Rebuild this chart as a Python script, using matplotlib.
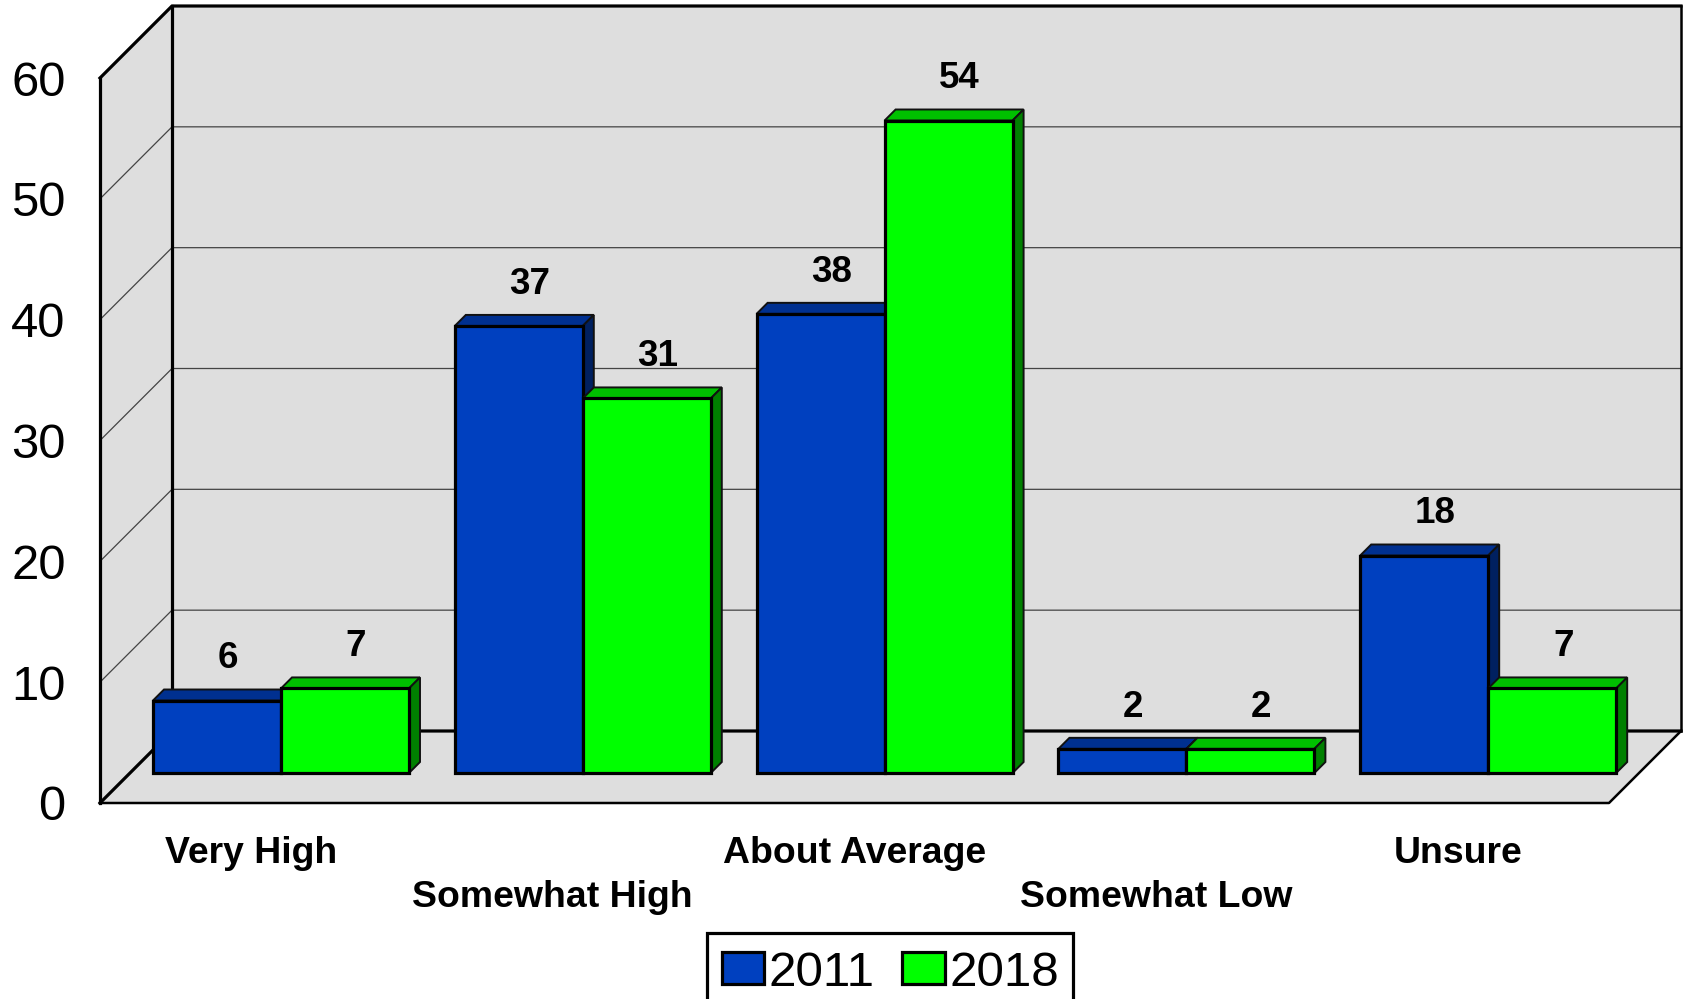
import matplotlib
matplotlib.use("Agg")
import matplotlib.pyplot as plt
from matplotlib.patches import Polygon, Rectangle

categories = ["Very High", "Somewhat High", "About Average", "Somewhat Low", "Unsure"]
years = ["2011", "2018"]
values_2011 = [6, 37, 38, 2, 18]
values_2018 = [7, 31, 54, 2, 7]
y_ticks = [0, 10, 20, 30, 40, 50, 60]

W, H = 1686, 999
L, R, T, B = 100, 1609, 78, 803   # front plane in pixels
plt.rcParams["font.family"] = ["Liberation Sans", "DejaVu Sans"]
fig = plt.figure(figsize=(W / 100, H / 100), dpi=100, facecolor="white")
ax = fig.add_axes([L / W, 1 - B / H, (R - L) / W, (B - T) / H])
ax.set_xlim(0, len(categories))
ax.set_ylim(0, 60)
ax.patch.set_visible(False)
for s in ax.spines.values():
    s.set_visible(False)

px = len(categories) / (R - L)   # data x per pixel
py = 60 / (B - T)                # data y per pixel
WALL = 72
WDX, WDY = WALL * px, WALL * py
N = len(categories)
GREY = "#DEDEDE"
LW = 2.3


def poly(pts, fc="none", ec="none", lw=0, z=1):
    ax.add_patch(Polygon(pts, closed=True, facecolor=fc, edgecolor=ec, linewidth=lw,
                         zorder=z, clip_on=False, joinstyle="miter"))


def line(xs, ys, lw=LW, c="black", z=2):
    ax.plot(xs, ys, color=c, lw=lw, zorder=z, clip_on=False, solid_capstyle="projecting")


# walls and floor
poly([(WDX, WDY), (N + WDX, WDY), (N + WDX, 60 + WDY), (WDX, 60 + WDY)], fc=GREY, z=1)
poly([(0, 0), (WDX, WDY), (WDX, 60 + WDY), (0, 60)], fc=GREY, z=1)
poly([(0, 0), (N, 0), (N + WDX, WDY), (WDX, WDY)], fc=GREY, z=1)
for v in y_ticks[1:-1]:
    line([0, WDX, N + WDX], [v, v + WDY, v + WDY], lw=0.9, c="#444444", z=1.5)
line([0, 0], [0, 60])
line([WDX, WDX], [WDY, 60 + WDY])
line([N + WDX, N + WDX], [WDY, 60 + WDY], lw=1.8)
line([0, WDX, N + WDX], [60, 60 + WDY, 60 + WDY])
line([0, WDX, N + WDX], [0, WDY, WDY])
line([0, N, N + WDX], [0, 0, WDY], lw=1.8)

# bars
GAP = 53 * px
BW = 128.0 * px
BASE_Y = 30 * py
DEPTH_X, DEPTH_Y = 11 * px, 11 * py
series = [
    (values_2011, "#0040BF", "#003090", "#002060"),
    (values_2018, "#00FF00", "#00C000", "#008000"),
]
z = 3
for i in range(N):
    for j, (vals, front, top, side) in enumerate(series):
        x0 = i + GAP + j * BW
        x1 = x0 + BW
        v = vals[i]
        yt = BASE_Y + v
        poly([(x0, yt), (x1, yt), (x1 + DEPTH_X, yt + DEPTH_Y), (x0 + DEPTH_X, yt + DEPTH_Y)],
             fc=top, ec="#111111", lw=1.4, z=z)
        poly([(x1, BASE_Y), (x1 + DEPTH_X, BASE_Y + DEPTH_Y), (x1 + DEPTH_X, yt + DEPTH_Y), (x1, yt)],
             fc=side, ec="#111111", lw=1.4, z=z)
        ax.bar(x0, v, BW, bottom=BASE_Y, align="edge", color=front, edgecolor="black",
               linewidth=LW, zorder=z + 0.1, clip_on=False)
        ax.text(x0 + BW / 2 + DEPTH_X, yt + DEPTH_Y + 21 * py, str(v), ha="center", va="baseline",
                fontsize=26.5, fontweight="bold", color="black", zorder=50)
        z += 0.2

# axes labels
ax.set_yticks(y_ticks)
ax.tick_params(axis="y", length=0, labelsize=35.3, pad=24.7)
ax.set_xticks([i + 0.5 for i in range(N)])
ax.set_xticklabels(categories, fontweight="bold", fontsize=26.9)
ax.tick_params(axis="x", length=0)
for k, tick in enumerate(ax.xaxis.get_major_ticks()):
    tick.set_pad(23.5 if k % 2 == 0 else 55.5)

# legend: the frame runs past the bottom edge of the figure
fig.add_artist(Rectangle((707 / W, 1 - 1012 / H), (1073 - 707) / W, (1012 - 933) / H,
                         transform=fig.transFigure, facecolor="white", edgecolor="black",
                         linewidth=LW, zorder=-1))
handles = [Rectangle((0, 0), 1, 1, facecolor=s[1], edgecolor="black", linewidth=LW) for s in series]
leg = ax.legend(handles, years, ncol=2, loc="upper left", bbox_to_anchor=(707 / W, 1 - 935.7 / H),
                bbox_transform=fig.transFigure, borderaxespad=0, fontsize=35.6,
                handlelength=0.85, handleheight=0.6, handletextpad=0.1, columnspacing=0.56,
                borderpad=0.3, frameon=False)
leg.set_zorder(60)

fig.savefig("out.png", dpi=100, facecolor="white")
